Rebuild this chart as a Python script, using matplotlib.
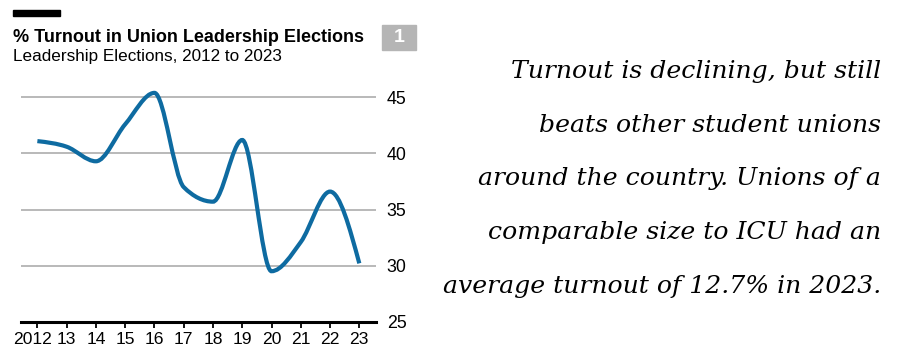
import matplotlib
matplotlib.use("Agg")
import matplotlib.pyplot as plt
import matplotlib.transforms as mtransforms
import numpy as np
from matplotlib.path import Path
from matplotlib.patches import PathPatch, Rectangle

# data
years = [2012, 2013, 2014, 2015, 2016, 2017, 2018, 2019, 2020, 2021, 2022, 2023]
year_labels = ['2012', '13', '14', '15', '16', '17', '18', '19', '20', '21', '22', '23']
turnout = [41.1, 40.6, 39.3, 42.6, 45.4, 37.0, 35.7, 41.2, 29.5, 32.1, 36.6, 30.2]
y_ticks = [25, 30, 35, 40, 45]

title = '% Turnout in Union Leadership Elections'
subtitle = 'Leadership Elections, 2012 to 2023'
note = ['Turnout is declining, but still',
        'beats other student unions',
        'around the country. Unions of a',
        'comparable size to ICU had an',
        'average turnout of 12.7% in 2023.']

LINE = '#0e6ba1'


def monotone_path(x, y):
    # d3-style monotone-x curve as cubic bezier segments
    x = np.asarray(x, float)
    y = np.asarray(y, float)
    h = np.diff(x)
    s = np.diff(y) / h
    n = len(x)
    t = np.zeros(n)
    for i in range(1, n - 1):
        if s[i - 1] * s[i] <= 0:
            t[i] = 0
        else:
            p = (s[i - 1] * h[i] + s[i] * h[i - 1]) / (h[i - 1] + h[i])
            t[i] = (np.sign(s[i - 1]) + np.sign(s[i])) * min(abs(s[i - 1]), abs(s[i]), 0.5 * abs(p))
    t[0] = (3 * s[0] - t[1]) / 2
    t[-1] = (3 * s[-1] - t[-2]) / 2
    verts = [(x[0], y[0])]
    codes = [Path.MOVETO]
    for i in range(n - 1):
        dx = h[i] / 3
        verts += [(x[i] + dx, y[i] + dx * t[i]),
                  (x[i + 1] - dx, y[i + 1] - dx * t[i + 1]),
                  (x[i + 1], y[i + 1])]
        codes += [Path.CURVE4] * 3
    return Path(verts, codes)


plt.rcParams['font.family'] = ['Liberation Sans', 'DejaVu Sans']

fig = plt.figure(figsize=(9.04, 3.64), dpi=100)
ax = fig.add_axes([0.0232, 0.1162, 0.3924, 0.641])

ax.set_xlim(2011.44, 2023.56)
ax.set_ylim(25, 45.8)

for v in y_ticks[1:]:
    ax.axhline(v, color='#b3b3b3', lw=1.3, zorder=1)

ax.add_patch(PathPatch(monotone_path(years, turnout), fill=False,
                       edgecolor=LINE, lw=3.0, capstyle='butt', zorder=3))

for sp in ['top', 'right', 'left']:
    ax.spines[sp].set_visible(False)
ax.spines['bottom'].set_linewidth(2.2)
ax.spines['bottom'].set_color('black')

ax.set_xticks(years)
ax.set_xticklabels(year_labels, fontsize=12.6)
ax.tick_params(axis='x', length=4.5, width=1.3, color='black', pad=3)
# nudge the long first label left, as in the original
first = ax.get_xticklabels()[0]
first.set_transform(first.get_transform() + mtransforms.ScaledTranslation(-5 / 100, 0, fig.dpi_scale_trans))
ax.set_yticks(y_ticks)
ax.yaxis.tick_right()
ax.tick_params(axis='y', length=0, pad=8, labelsize=12.8)

# header
fig.add_artist(Rectangle((13 / 904, 1 - 16 / 364), 47 / 904, 6 / 364,
                         transform=fig.transFigure, color='black'))
fig.text(13 / 904, 1 - 37 / 364, title, fontsize=13, fontweight='bold', va='center')
fig.text(13 / 904, 1 - 57 / 364, subtitle, fontsize=12.3, va='center')
fig.add_artist(Rectangle((382 / 904, 1 - 50 / 364), 34 / 904, 25 / 364,
                         transform=fig.transFigure, color='#b5b5b5'))
fig.text(399 / 904, 1 - 37.5 / 364, '1', fontsize=14, fontweight='bold',
         color='white', ha='center', va='center')

# side note
for i, line in enumerate(note):
    fig.text(881 / 904, 1 - (71.5 + 53.7 * i) / 364, line, ha='right', va='center',
             fontsize=18.1, style='italic', family=['DejaVu Serif'])

fig.savefig('out.png', dpi=100, facecolor='white')
